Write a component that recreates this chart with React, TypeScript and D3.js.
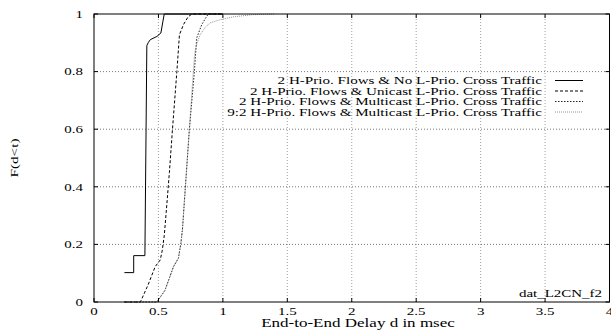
import React from 'react';
import * as d3 from 'd3';

// delay (msec) / cumulative probability pairs
const noCrossDelay = [0.236, 0.308, 0.308, 0.395, 0.41, 0.42, 0.437, 0.488, 0.519, 0.535, 0.545, 1.0];
const noCrossF = [0.102, 0.102, 0.161, 0.161, 0.89, 0.9, 0.911, 0.922, 0.934, 0.975, 1.0, 1.0];

const unicastDelay = [0.236, 0.36, 0.42, 0.475, 0.514, 0.53, 0.545, 0.56, 0.585, 0.609, 0.643, 0.663, 0.694, 0.73, 0.759, 1.0];
const unicastF = [0, 0, 0.06, 0.123, 0.146, 0.18, 0.23, 0.31, 0.45, 0.6, 0.8, 0.928, 0.963, 0.99, 1.0, 1.0];

const multicastDelay = [0.236, 0.488, 0.55, 0.617, 0.655, 0.674, 0.686, 0.74, 0.779, 0.797, 0.836, 0.865, 0.887, 1.0];
const multicastF = [0, 0, 0.04, 0.123, 0.152, 0.204, 0.25, 0.6, 0.8, 0.917, 0.963, 0.985, 1.0, 1.0];

const multicast92Delay = [0.236, 0.488, 0.55, 0.617, 0.655, 0.674, 0.686, 0.74, 0.775, 0.784, 0.8, 0.823, 0.86, 0.9, 0.978, 1.08, 1.235, 1.4];
const multicast92F = [0, 0, 0.04, 0.123, 0.152, 0.204, 0.25, 0.6, 0.83, 0.87, 0.9, 0.928, 0.952, 0.969, 0.98, 0.99, 0.998, 1.0];

const seriesLabels = [
  '2 H-Prio. Flows & No L-Prio. Cross Traffic',
  '2 H-Prio. Flows & Unicast L-Prio. Cross Traffic',
  '2 H-Prio. Flows & Multicast L-Prio. Cross Traffic',
  '9:2 H-Prio. Flows & Multicast L-Prio. Cross Traffic',
];

const xTicks = [0, 0.5, 1, 1.5, 2, 2.5, 3, 3.5, 4];
const yTicks = [0, 0.2, 0.4, 0.6, 0.8, 1];

const width = 611;
const height = 331;
const margin = { left: 94, right: 1, top: 14, bottom: 29 };
const SX = 1.36; // glyphs in the picture are stretched sideways
const FONT = '"Liberation Serif", "Times New Roman", serif';

const styles = [
  { stroke: '#000', dash: undefined, width: 1 },
  { stroke: '#000', dash: '3,2', width: 1 },
  { stroke: '#222', dash: '1.5,1.5', width: 1 },
  { stroke: '#777', dash: '1,1', width: 0.8 },
];

const SText = ({ x, y, anchor = 'start', size = 11, sx = SX, children }: any) => (
  <text
    transform={`translate(${x},${y}) scale(${sx},1)`}
    textAnchor={anchor}
    fontSize={size}
    fontFamily={FONT}
    fill="#000"
  >
    {children}
  </text>
);

const App = () => {
  const x = d3.scaleLinear().domain([0, 4]).range([margin.left, width - margin.right - 0.5]);
  const y = d3.scaleLinear().domain([0, 1]).range([height - margin.bottom, margin.top]);

  const series = [
    d3.zip(noCrossDelay, noCrossF),
    d3.zip(unicastDelay, unicastF),
    d3.zip(multicastDelay, multicastF),
    d3.zip(multicast92Delay, multicast92F),
  ];

  const line = d3.line<number[]>().x((p) => x(p[0])).y((p) => y(p[1]));

  const x0 = x(0), x1 = x(4), y0 = y(0), y1 = y(1);
  const tick = 4;

  return (
    <svg
      width={width}
      height={height}
      style={{ position: 'absolute', left: 0, top: 0, background: '#fff' }}
    >
      {/* grid */}
      {xTicks.slice(1, -1).map((t) => (
        <line key={'gx' + t} x1={x(t)} x2={x(t)} y1={y0} y2={y1}
          stroke="#888" strokeWidth={0.8} strokeDasharray="1,2" />
      ))}
      {yTicks.slice(1, -1).map((t) => (
        <line key={'gy' + t} x1={x0} x2={x1} y1={y(t)} y2={y(t)}
          stroke="#555" strokeWidth={0.8} strokeDasharray="1,2" />
      ))}

      {/* curves */}
      {series.map((s, i) => (
        <path key={i} d={line(s as any) || ''} fill="none"
          stroke={styles[i].stroke} strokeWidth={styles[i].width}
          strokeDasharray={styles[i].dash} />
      ))}

      {/* frame + ticks */}
      <rect x={x0} y={y1} width={x1 - x0} height={y0 - y1} fill="none" stroke="#000" strokeWidth={1} />
      {xTicks.map((t) => (
        <g key={'tx' + t}>
          <line x1={x(t)} x2={x(t)} y1={y0} y2={y0 - tick} stroke="#000" />
          <line x1={x(t)} x2={x(t)} y1={y1} y2={y1 + tick} stroke="#000" />
          <SText x={x(t)} y={314.5} anchor="middle">{d3.format('~g')(t)}</SText>
        </g>
      ))}
      {yTicks.map((t) => (
        <g key={'ty' + t}>
          <line x1={x0} x2={x0 + tick} y1={y(t)} y2={y(t)} stroke="#000" />
          <line x1={x1} x2={x1 - tick} y1={y(t)} y2={y(t)} stroke="#000" />
          <SText x={83} y={y(t) + 3.7} anchor="end">{d3.format('~g')(t)}</SText>
        </g>
      ))}

      {/* axis titles */}
      <SText x={358} y={327} anchor="middle" size={11.5} sx={1.48}>End-to-End Delay d in msec</SText>
      <text transform="translate(18,158) rotate(-90)" textAnchor="middle"
        fontSize={11} fontFamily={FONT} textLength={39} lengthAdjust="spacingAndGlyphs">
        F(d&lt;t)
      </text>
      <SText x={602} y={297} anchor="end">dat_L2CN_f2</SText>

      {/* legend */}
      {seriesLabels.map((lab, i) => {
        const by = 84 + i * 10.5;
        return (
          <g key={lab}>
            <SText x={542} y={by} anchor="end" size={10.5} sx={1.44}>{lab}</SText>
            <line x1={555} x2={583} y1={by - 3.5} y2={by - 3.5}
              stroke={styles[i].stroke} strokeWidth={styles[i].width}
              strokeDasharray={styles[i].dash} />
          </g>
        );
      })}
    </svg>
  );
};

export default App;
